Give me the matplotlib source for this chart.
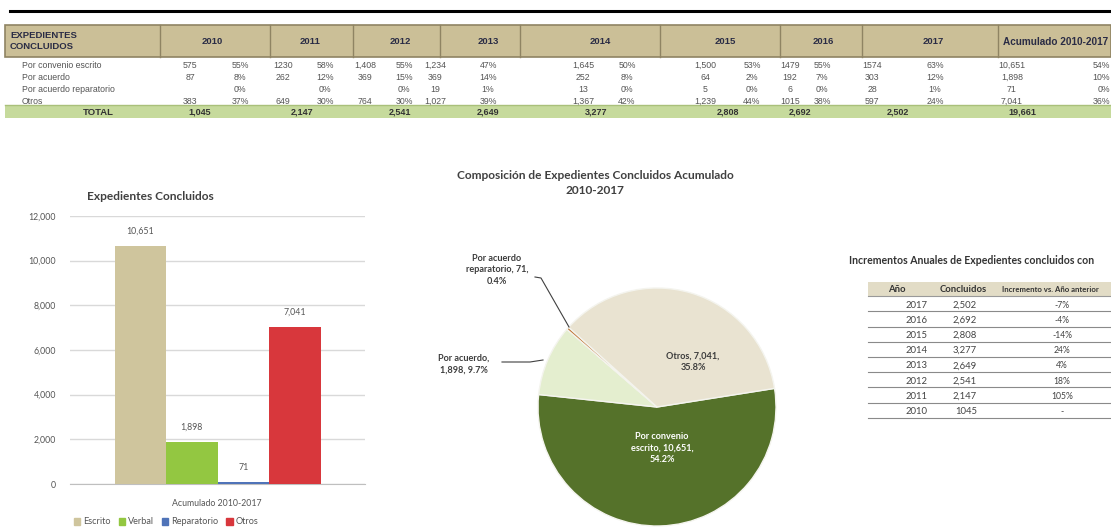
import matplotlib
matplotlib.use("Agg")
import matplotlib.pyplot as plt
from matplotlib.patches import Rectangle
from matplotlib.lines import Line2D
from matplotlib.ticker import FuncFormatter

# ---------------- data ----------------
years = ['2010', '2011', '2012', '2013', '2014', '2015', '2016', '2017']
row_labels = ['Por convenio escrito', 'Por acuerdo', 'Por acuerdo reparatorio', 'Otros']
escrito_cells = ['575', '1230', '1,408', '1,234', '1,645', '1,500', '1479', '1574', '10,651']
escrito_pcts = ['55%', '58%', '55%', '47%', '50%', '53%', '55%', '63%', '54%']
acuerdo_cells = ['87', '262', '369', '369', '252', '64', '192', '303', '1,898']
acuerdo_pcts = ['8%', '12%', '15%', '14%', '8%', '2%', '7%', '12%', '10%']
repar_cells = ['', '', '', '19', '13', '5', '6', '28', '71']
repar_pcts = ['0%', '0%', '0%', '1%', '0%', '0%', '0%', '1%', '0%']
otros_cells = ['383', '649', '764', '1,027', '1,367', '1,239', '1015', '597', '7,041']
otros_pcts = ['37%', '30%', '30%', '39%', '42%', '44%', '38%', '24%', '36%']
total_cells = ['1,045', '2,147', '2,541', '2,649', '3,277', '2,808', '2,692', '2,502', '19,661']

bar_labels = ['Escrito', 'Verbal', 'Reparatorio', 'Otros']
bar_values = [10651, 1898, 71, 7041]
bar_category = 'Acumulado 2010-2017'

pie_labels = ['Por convenio escrito', 'Por acuerdo', 'Por acuerdo reparatorio', 'Otros']
pie_values = [10651, 1898, 71, 7041]

inc_years = ['2017', '2016', '2015', '2014', '2013', '2012', '2011', '2010']
inc_concluidos = ['2,502', '2,692', '2,808', '3,277', '2,649', '2,541', '2,147', '1045']
inc_pcts = ['-7%', '-4%', '-14%', '24%', '4%', '18%', '105%', '-']

# ---------------- figure ----------------
W, H = 1111, 529
fig = plt.figure(figsize=(W / 100, H / 100), dpi=100)
fig.patch.set_facecolor('white')


def fx(x):
    return x / W


def fy(y):
    return 1 - y / H


def txt(x, y, s, **kw):
    kw.setdefault('va', 'center_baseline')
    fig.text(fx(x), fy(y), s, **kw)


def rect(x0, y0, x1, y1, **kw):
    fig.add_artist(Rectangle((fx(x0), fy(y1)), (x1 - x0) / W, (y1 - y0) / H,
                             transform=fig.transFigure, **kw))


def hline(x0, x1, y, **kw):
    fig.add_artist(Line2D([fx(x0), fx(x1)], [fy(y), fy(y)], transform=fig.transFigure, **kw))


def vline(x, y0, y1, **kw):
    fig.add_artist(Line2D([fx(x), fx(x)], [fy(y0), fy(y1)], transform=fig.transFigure, **kw))


TF = 'Liberation Sans'
CF = 'Lato'

# ---------------- top table ----------------
hline(10, 1111, 11, color='black', lw=2.2)
hT, hB = 25, 57
rect(5, hT, 1111, hB, facecolor='#cbbf97', edgecolor='#8f8463', lw=1.2)
seps = [160, 270, 353, 440, 520, 660, 780, 862, 998]
for s in seps:
    vline(s, hT, hB, color='#8f8463', lw=1.0)
txt(10, (hT + hB) / 2, 'EXPEDIENTES\nCONCLUIDOS', ha='left', va='center', fontsize=6.8,
    fontweight='bold', family=TF, color='#2a2c45', linespacing=1.3)
head_x = [212, 310, 400, 488, 600, 725, 823, 933]
for x, yr in zip(head_x, years):
    txt(x, (hT + hB) / 2, yr, ha='center', fontsize=6.8, fontweight='bold', family=TF,
        color='#2a2c45')
txt(1003, (hT + hB) / 2, 'Acumulado 2010-2017', ha='left', fontsize=7.2, fontweight='bold',
    family=TF, color='#2a2c45')

val_x = [190, 283, 365, 435, 583, 705, 790, 872, 1012]
pct_x = [240, 325, 404, 488, 627, 752, 822, 935, 1104]
row_y = [64, 76, 88, 100]
rows = [(escrito_cells, escrito_pcts), (acuerdo_cells, acuerdo_pcts),
        (repar_cells, repar_pcts), (otros_cells, otros_pcts)]
for ry, lab, (cells, pcts) in zip(row_y, row_labels, rows):
    txt(22, ry, lab, ha='left', fontsize=6.3, family=TF, color='#555555')
    for x, c in zip(val_x, cells):
        txt(x, ry, c, ha='center', fontsize=6.3, family=TF, color='#555555')
    for x, p in zip(pct_x[:-1], pcts[:-1]):
        txt(x, ry, p, ha='center', fontsize=6.3, family=TF, color='#555555')
    txt(1110, ry, pcts[-1], ha='right', fontsize=6.3, family=TF, color='#555555')

tT, tB = 105, 118
rect(5, tT, 1111, tB, facecolor='#c6da9c', edgecolor='none')
hline(5, 1111, tT, color='#a9c07a', lw=1)
txt(114, (tT + tB) / 2, 'TOTAL', ha='right', fontsize=6.8, fontweight='bold', family=TF,
    color='#333333')
tot_x = [200, 302, 400, 488, 596, 728, 800, 898, 1022]
for x, t in zip(tot_x, total_cells):
    txt(x, (tT + tB) / 2, t, ha='center', fontsize=6.5, fontweight='bold', family=TF,
        color='#333333')

# ---------------- bar chart ----------------
axL, axR, axT, axB = 70, 365, 216, 484
ax = fig.add_axes([fx(axL), fy(axB), (axR - axL) / W, (axB - axT) / H])
bar_colors = ['#cfc59d', '#93c741', '#4f73b8', '#d8373c']
xs = list(range(len(bar_values)))
ax.bar(xs, bar_values, width=1.0, color=bar_colors, edgecolor='none', zorder=3)
pxu = 51.5
left_units = (217.5 - axL) / pxu
right_units = (axR - 217.5) / pxu
ax.set_xlim(1.5 - left_units, 1.5 + right_units)
ax.set_ylim(0, 12000)
ax.set_yticks(range(0, 12001, 2000))
ax.yaxis.set_major_formatter(FuncFormatter(lambda v, p: f'{int(v):,}'))
ax.grid(axis='y', color='#d9d9d9', lw=1, zorder=0)
ax.set_xticks([])
for s in ['top', 'right', 'left']:
    ax.spines[s].set_visible(False)
ax.spines['bottom'].set_color('#bfbfbf')
ax.tick_params(axis='y', length=0, labelsize=6.3, labelcolor='#555555', pad=10)
for lbl in ax.get_yticklabels():
    lbl.set_family(CF)
for x, v in zip(xs, bar_values):
    ax.text(x, v + 450, f'{v:,}', ha='center', va='bottom', fontsize=6.3,
            color='#555555', family=CF)
txt(217, 502, bar_category, ha='center', fontsize=6.3, family=CF, color='#555555')
txt(150, 195, 'Expedientes Concluidos', ha='center', fontsize=8.6, fontweight='bold',
    family=CF, color='#404040')
handles = [Rectangle((0, 0), 1, 1, color=c) for c in bar_colors]
leg = fig.legend(handles, bar_labels, loc='center', bbox_to_anchor=(fx(166), fy(522)),
                 ncol=4, frameon=False, handlelength=0.7, handleheight=0.7,
                 handletextpad=0.3, columnspacing=0.9, prop={'family': CF, 'size': 6.6})
for t in leg.get_texts():
    t.set_color('#555555')

# ---------------- pie chart ----------------
cx, cy, r = 657, 407, 119
pax = fig.add_axes([fx(cx - r), fy(cy + r), 2 * r / W, 2 * r / H])
pie_colors = ['#55722a', '#e4eecf', '#c27a3c', '#e9e3d1']
pax.pie(pie_values, colors=pie_colors, startangle=9, counterclock=False, radius=1.0,
        wedgeprops=dict(edgecolor='#f4f4ee', linewidth=1.0))
pax.set_xlim(-1, 1)
pax.set_ylim(-1, 1)
pax.set_aspect('equal')
pax.axis('off')
total = sum(pie_values)


def pct(v):
    return f'{100 * v / total:.1f}%'


txt(693, 362, f'Otros, {pie_values[3]:,},\n{pct(pie_values[3])}', ha='center', va='center',
    fontsize=6.6, fontweight='bold', family=CF, color='#3d3d3d', linespacing=1.4)
txt(662, 448, f'Por convenio\nescrito, {pie_values[0]:,},\n{pct(pie_values[0])}', ha='center',
    va='center', fontsize=6.6, fontweight='bold', family=CF, color='white', linespacing=1.4)
txt(464, 364, f'Por acuerdo,\n{pie_values[1]:,}, {pct(pie_values[1])}', ha='center',
    va='center', fontsize=6.6, fontweight='bold', family=CF, color='#3d3d3d', linespacing=1.4)
fig.add_artist(Line2D([fx(502), fx(530), fx(543)], [fy(362), fy(362), fy(360)],
                      transform=fig.transFigure, color='#404040', lw=0.8))
txt(497, 270, f'Por acuerdo\nreparatorio, {pie_values[2]},\n{pct(pie_values[2])}', ha='center',
    va='center', fontsize=6.6, fontweight='bold', family=CF, color='#3d3d3d', linespacing=1.4)
fig.add_artist(Line2D([fx(535), fx(541), fx(569)], [fy(277), fy(278), fy(327)],
                      transform=fig.transFigure, color='#404040', lw=0.8))
txt(595, 183, 'Composición de Expedientes Concluidos Acumulado\n2010-2017', ha='center',
    va='center', fontsize=8.6, fontweight='bold', family=CF, color='#404040', linespacing=1.35)

# ---------------- increments table ----------------
txt(972, 259, 'Incrementos Anuales de Expedientes concluidos con', ha='center',
    fontsize=7.6, fontweight='bold', family=CF, color='#333333')
rect(868, 282, 1111, 296, facecolor='#e2dcc6', edgecolor='none')
txt(897, 289, 'Año', ha='center', fontsize=6.8, fontweight='bold', family=CF, color='#333333')
txt(963, 289, 'Concluidos', ha='center', fontsize=6.8, fontweight='bold', family=CF,
    color='#333333')
txt(1002, 289, 'Incremento vs. Año anterior', ha='left', fontsize=5.6, fontweight='bold',
    family=CF, color='#333333')
hline(868, 1111, 296, color='#999999', lw=0.8)
for i, (yr, c, p) in enumerate(zip(inc_years, inc_concluidos, inc_pcts)):
    yy = 304 + i * 15.2
    txt(928, yy, yr, ha='right', fontsize=6.8, family=CF, color='#444444')
    txt(977, yy, c, ha='right', fontsize=6.8, family=CF, color='#444444')
    txt(1062, yy, p, ha='center', fontsize=6.2, family=CF, color='#444444')
    hline(868, 1111, yy + 7.3, color='#8a8a8a', lw=0.8)

fig.savefig('out.png', dpi=100)
